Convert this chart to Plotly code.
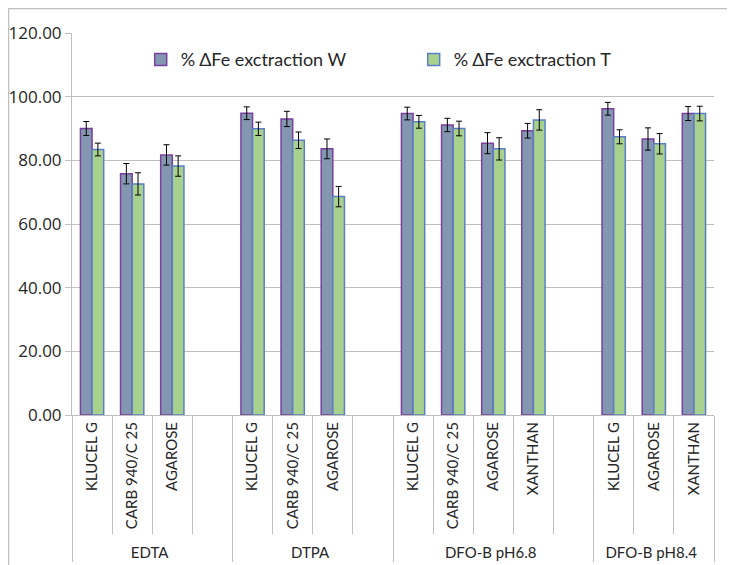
import plotly.graph_objects as go

groups = ["EDTA"] * 4 + ["DTPA"] * 4 + ["DFO-B pH6.8"] * 5 + ["DFO-B pH8.4"] * 3
# blank slots separate the groups; the last blank differs so it sorts after XANTHAN
gels = ["KLUCEL G", "CARB 940/C 25", "AGAROSE", " ",
        "KLUCEL G", "CARB 940/C 25", "AGAROSE", " ",
        "KLUCEL G", "CARB 940/C 25", "AGAROSE", "XANTHAN", "  ",
        "KLUCEL G", "AGAROSE", "XANTHAN"]

fe_w = [90.0, 75.8, 81.7, None,
        94.8, 93.0, 83.6, None,
        94.7, 91.1, 85.4, 89.3, None,
        96.2, 86.7, 94.7]
err_w = [2.2, 3.2, 3.2, None,
         2.0, 2.4, 3.1, None,
         2.0, 2.1, 3.3, 2.3, None,
         2.0, 3.5, 2.2]

fe_t = [83.4, 72.6, 78.2, None,
        89.9, 86.3, 68.6, None,
        92.1, 90.0, 83.6, 92.7, None,
        87.4, 85.2, 94.7]
err_t = [2.0, 3.5, 3.2, None,
         2.1, 2.6, 3.2, None,
         2.0, 2.3, 3.5, 3.2, None,
         2.2, 3.2, 2.3]

font = "Lato"
grid = "#bfbfbf"

fig = go.Figure()
fig.add_trace(go.Bar(
    x=[groups, gels], y=fe_w, name="% ΔFe exctraction W",
    marker=dict(color="#8497b0", line=dict(color="#7b3fa0", width=1.5)),
    error_y=dict(type="data", array=err_w, color="black", thickness=1, width=3),
))
fig.add_trace(go.Bar(
    x=[groups, gels], y=fe_t, name="% ΔFe exctraction T",
    marker=dict(color="#a9d18e", line=dict(color="#5a7fc8", width=1.5)),
    error_y=dict(type="data", array=err_t, color="black", thickness=1, width=3),
))

# the page body keeps an 8px margin, so the figure is sized to what stays visible
fig.update_layout(
    width=727, height=557,
    margin=dict(l=64, r=21, t=25, b=150),
    paper_bgcolor="white", plot_bgcolor="white",
    barmode="group", bargap=0.42, bargroupgap=0,
    font=dict(family=font, size=15, color="#262626"),
    showlegend=True,
    legend=dict(orientation="h", x=0.107, y=0.93, xanchor="left", yanchor="middle",
                font=dict(size=18), entrywidth=228, entrywidthmode="pixels",
                bgcolor="rgba(0,0,0,0)"),
    shapes=[
        dict(type="line", xref="paper", yref="paper", x0=-0.0989, x1=1.04,
             y0=1.0641, y1=1.0641, line=dict(color="#bfbfbf", width=1.5)),
        dict(type="line", xref="paper", yref="paper", x0=-0.0989, x1=-0.0989,
             y0=1.0641, y1=-0.45, line=dict(color="#bfbfbf", width=1.5)),
    ],
)

fig.update_yaxes(
    automargin=False,
    range=[0, 120], dtick=20, tickformat=".2f",
    showgrid=True, gridcolor=grid, gridwidth=1,
    showline=True, linecolor=grid, linewidth=1,
    ticks="outside", ticklen=6, tickcolor=grid,
    tickfont=dict(family="Open Sans", size=17), zeroline=False,
)
fig.update_xaxes(
    automargin=False,
    type="multicategory", tickangle=-90,
    showline=True, linecolor=grid, linewidth=1,
    ticks="outside", tickson="boundaries", ticklen=118, tickcolor=grid,
    showdividers=True, dividercolor=grid, dividerwidth=1,
    tickfont=dict(size=15),
)

fig.write_html("out.html")
